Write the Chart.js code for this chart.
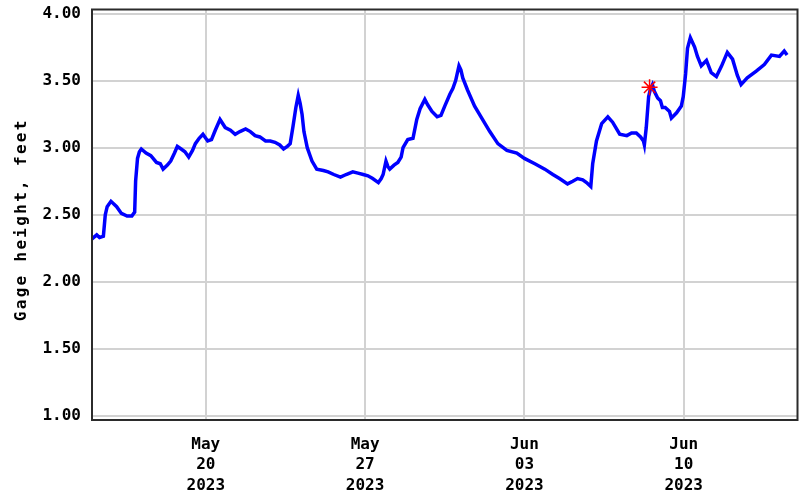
<!DOCTYPE html>
<html>
<head>
<meta charset="utf-8">
<script src="https://cdn.jsdelivr.net/npm/chart.js@4/dist/chart.umd.min.js"></script>
<style>
  html, body { margin: 0; padding: 0; background: #ffffff; }
  #wrap { width: 807px; height: 496px; }
</style>
</head>
<body>
<div id="wrap"><canvas id="chart" width="807" height="496"></canvas></div>
<script>
// Gage height readings, local time (2023)
const readingTimes = [
  '05-15 00:00','05-15 05:00','05-15 08:00','05-15 12:00','05-15 14:00','05-15 16:00','05-15 20:00',
  '05-16 02:00','05-16 07:00','05-16 13:00','05-16 18:00','05-16 21:00','05-16 22:00',
  '05-17 00:00','05-17 02:00','05-17 04:00','05-17 09:00','05-17 14:00','05-17 20:00',
  '05-18 00:00','05-18 03:00','05-18 07:30','05-18 11:00','05-18 15:00','05-18 18:00','05-18 22:00',
  '05-19 02:00','05-19 06:00','05-19 10:00','05-19 13:00','05-19 17:00','05-19 21:00',
  '05-20 02:00','05-20 06:00','05-20 10:00','05-20 15:00','05-20 20:30',
  '05-21 02:00','05-21 07:00','05-21 12:00','05-21 18:00','05-21 23:00',
  '05-22 04:00','05-22 09:00','05-22 15:00','05-22 20:00',
  '05-23 01:00','05-23 06:00','05-23 10:00','05-23 14:00','05-23 17:00','05-23 20:00','05-23 23:00',
  '05-24 01:30','05-24 03:30','05-24 05:30','05-24 07:30','05-24 11:00','05-24 14:00','05-24 16:00','05-24 21:00',
  '05-25 04:00','05-25 09:00','05-25 15:00','05-25 22:00',
  '05-26 04:00','05-26 11:00','05-26 16:30','05-26 22:00',
  '05-27 03:00','05-27 08:00','05-27 14:00','05-27 17:00','05-27 19:00','05-27 22:00',
  '05-28 00:00','05-28 02:00','05-28 06:30','05-28 10:30','05-28 14:00','05-28 16:00','05-28 21:00',
  '05-29 02:30','05-29 06:30','05-29 10:00','05-29 15:00','05-29 18:00','05-29 22:30',
  '05-30 04:00','05-30 08:00','05-30 12:00','05-30 17:30','05-30 20:30','05-30 23:30',
  '05-31 03:00','05-31 05:00','05-31 07:00','05-31 12:00','05-31 19:30',
  '06-01 03:00','06-01 11:30','06-01 20:00',
  '06-02 05:30','06-02 16:00',
  '06-03 00:00','06-03 11:00','06-03 21:30',
  '06-04 06:00','06-04 13:00','06-04 21:30',
  '06-05 03:00','06-05 08:00','06-05 13:30','06-05 17:30','06-05 22:00',
  '06-06 00:00','06-06 04:00','06-06 09:30','06-06 16:00','06-06 21:00',
  '06-07 04:30','06-07 12:00','06-07 17:00','06-07 22:00',
  '06-08 02:30','06-08 05:30','06-08 06:30','06-08 08:30','06-08 11:00','06-08 13:00','06-08 15:00','06-08 17:00','06-08 20:30','06-08 23:30',
  '06-09 01:30','06-09 04:30','06-09 09:00','06-09 11:00','06-09 16:30','06-09 21:30','06-09 23:30',
  '06-10 02:00','06-10 04:00','06-10 07:00','06-10 11:30','06-10 14:30','06-10 18:30',
  '06-11 00:00','06-11 05:00','06-11 10:30','06-11 16:00','06-11 22:00',
  '06-12 03:30','06-12 08:30','06-12 12:30','06-12 19:00',
  '06-13 04:30','06-13 13:00','06-13 20:30',
  '06-14 05:00','06-14 10:00','06-14 13:00'
];

const gageHeight = [
  2.32, 2.35, 2.33, 2.34, 2.50, 2.56, 2.60,
  2.56, 2.51, 2.49, 2.49, 2.52, 2.75,
  2.92, 2.97, 2.99, 2.96, 2.94, 2.89,
  2.88, 2.84, 2.87, 2.90, 2.96, 3.01, 2.99,
  2.97, 2.93, 2.98, 3.03, 3.07, 3.10,
  3.05, 3.06, 3.13, 3.21, 3.15,
  3.13, 3.10, 3.12, 3.14, 3.12,
  3.09, 3.08, 3.05, 3.05,
  3.04, 3.02, 2.99, 3.01, 3.03, 3.16, 3.30,
  3.39, 3.33, 3.25, 3.12, 3.00, 2.94, 2.90, 2.84,
  2.83, 2.82, 2.80, 2.78,
  2.80, 2.82, 2.81, 2.80,
  2.79, 2.77, 2.74, 2.77, 2.80, 2.90,
  2.86, 2.84, 2.87, 2.89, 2.93, 3.00, 3.06,
  3.07, 3.21, 3.29, 3.36, 3.32, 3.27,
  3.23, 3.24, 3.31, 3.40, 3.44, 3.50,
  3.61, 3.58, 3.52, 3.43, 3.31,
  3.22, 3.12, 3.03,
  2.98, 2.96,
  2.92, 2.88, 2.84,
  2.80, 2.77, 2.73,
  2.75, 2.77, 2.76, 2.74, 2.71,
  2.88, 3.05, 3.18, 3.23, 3.19,
  3.10, 3.09, 3.11, 3.11,
  3.08, 3.05, 3.02, 3.15, 3.38, 3.44, 3.47, 3.42, 3.37, 3.35,
  3.30, 3.30, 3.27, 3.22, 3.26, 3.31, 3.38,
  3.55, 3.74, 3.82, 3.75, 3.68, 3.61,
  3.65, 3.56, 3.53, 3.61, 3.71,
  3.66, 3.54, 3.47, 3.52,
  3.57, 3.62, 3.69,
  3.68, 3.72, 3.69
];

// Flagged reading shown with a red asterisk
const flaggedTime = ['06-08 12:00'];
const flaggedHeight = [3.45];

// Axis ticks
const yTicks = [1.00, 1.50, 2.00, 2.50, 3.00, 3.50, 4.00];
const xTickDates = ['05-20', '05-27', '06-03', '06-10'];
const xTickLabels = [['May', '20', '2023'], ['May', '27', '2023'], ['Jun', '03', '2023'], ['Jun', '10', '2023']];

// Days elapsed since May 15 00:00
function dayOffset(stamp) {
  const [md, hm] = stamp.split(' ');
  const [m, d] = md.split('-').map(Number);
  const [h, mi] = (hm || '00:00').split(':').map(Number);
  const dayNum = (m === 5 ? d : 31 + d) - 15;
  return dayNum + (h + mi / 60) / 24;
}

const series = readingTimes.map((t, i) => ({ x: dayOffset(t), y: gageHeight[i] }));
const flagged = flaggedTime.map((t, i) => ({ x: dayOffset(t), y: flaggedHeight[i] }));
const xTickValues = xTickDates.map(dayOffset);

const FONT = '"DejaVu Sans Mono", "Liberation Mono", monospace';

// Frame around the plot area and the rotated axis title
const framePlugin = {
  id: 'frame',
  afterDraw(chart) {
    const { ctx, chartArea: a } = chart;
    ctx.save();
    ctx.strokeStyle = '#2b2b2b';
    ctx.lineWidth = 2;
    ctx.strokeRect(a.left, a.top, a.right - a.left, a.bottom - a.top);
    ctx.restore();

    ctx.save();
    ctx.translate(22, (a.top + a.bottom) / 2 + 5);
    ctx.rotate(-Math.PI / 2);
    ctx.font = 'bold 16px ' + FONT;
    ctx.fillStyle = '#000000';
    ctx.textAlign = 'center';
    ctx.textBaseline = 'middle';
    if ('letterSpacing' in ctx) ctx.letterSpacing = '2.3px';
    ctx.fillText('Gage height, feet', 0, 0);
    ctx.restore();
  }
};

new Chart(document.getElementById('chart'), {
  type: 'line',
  data: {
    datasets: [
      {
        data: series,
        borderColor: '#0000ff',
        borderWidth: 3.5,
        pointRadius: 0,
        tension: 0,
        fill: false,
        order: 2
      },
      {
        data: flagged,
        showLine: false,
        pointStyle: 'star',
        pointRadius: 8,
        borderColor: '#ff0000',
        backgroundColor: '#ff0000',
        pointBorderWidth: 1.5,
        order: 1
      }
    ]
  },
  options: {
    responsive: false,
    animation: false,
    devicePixelRatio: 1,
    layout: { padding: { top: 8, right: 9, left: 0, bottom: 0 } },
    plugins: { legend: { display: false }, tooltip: { enabled: false }, title: { display: false } },
    scales: {
      x: {
        type: 'linear',
        min: 0,
        max: 31,
        afterBuildTicks(scale) { scale.ticks = xTickValues.map(v => ({ value: v })); },
        afterFit(scale) {
          scale.height = 76;
          scale.paddingLeft = 0;
          scale.paddingRight = 0;
        },
        grid: { color: '#d2d2d2', lineWidth: 2, drawTicks: false },
        border: { display: false },
        ticks: {
          padding: 14,
          maxRotation: 0,
          autoSkip: false,
          color: '#000000',
          font: { family: FONT, size: 16, weight: 'bold', lineHeight: 1.3 },
          callback(value) {
            const i = xTickValues.findIndex(v => Math.abs(v - value) < 1e-6);
            return i >= 0 ? xTickLabels[i] : '';
          }
        }
      },
      y: {
        type: 'linear',
        min: 0.97,
        max: 4.03,
        afterBuildTicks(scale) { scale.ticks = yTicks.map(v => ({ value: v })); },
        afterFit(scale) {
          scale.width = 92;
          scale.paddingTop = 0;
          scale.paddingBottom = 0;
        },
        grid: { color: '#d2d2d2', lineWidth: 2, drawTicks: false },
        border: { display: false },
        ticks: {
          padding: 11,
          color: '#000000',
          font: { family: FONT, size: 16, weight: 'bold' },
          callback(value) { return Number(value).toFixed(2); }
        }
      }
    }
  },
  plugins: [framePlugin]
});
</script>
</body>
</html>
